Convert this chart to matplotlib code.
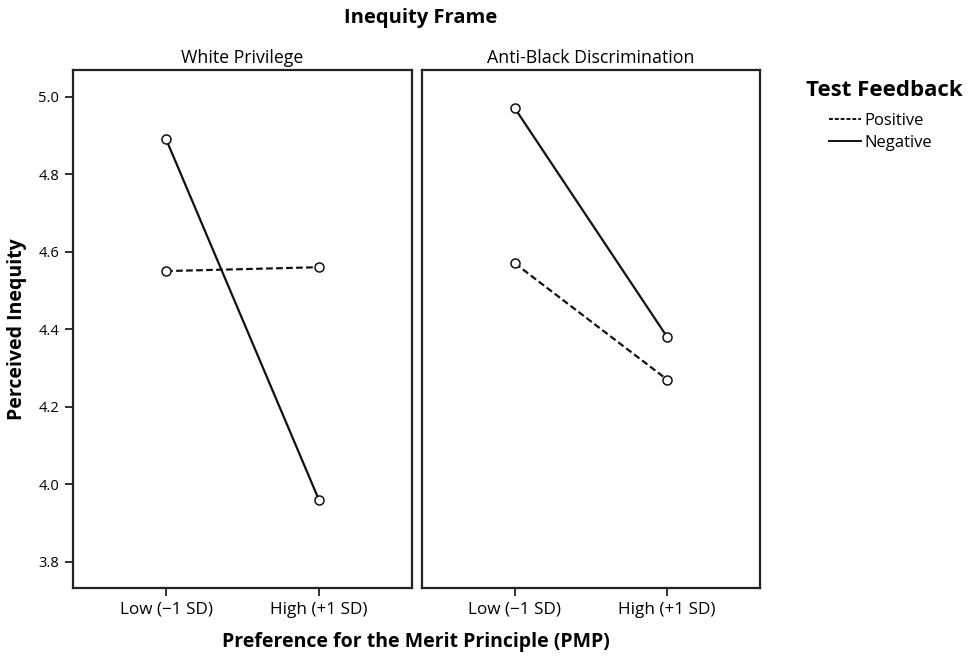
import matplotlib
matplotlib.use("Agg")
import matplotlib.pyplot as plt
from matplotlib.lines import Line2D

plt.rcParams['font.family'] = ['Open Sans', 'DejaVu Sans']

panels = ["White Privilege", "Anti-Black Discrimination"]
x_labels = ["Low (\u22121 SD)", "High (+1 SD)"]
positive = {"White Privilege": [4.55, 4.56], "Anti-Black Discrimination": [4.57, 4.27]}
negative = {"White Privilege": [4.89, 3.96], "Anti-Black Discrimination": [4.97, 4.38]}
y_ticks = [3.8, 4.0, 4.2, 4.4, 4.6, 4.8, 5.0]

fig = plt.figure(figsize=(9.68, 6.59), dpi=100)
W, H = 968, 659
boxes = [(73, 412), (422, 760)]
top, bottom = 70, 588
axes = []
for i, (name, (x0, x1)) in enumerate(zip(panels, boxes)):
    ax = fig.add_axes([x0 / W, 1 - bottom / H, (x1 - x0) / W, (bottom - top) / H])
    xs = list(range(len(x_labels)))
    ax.plot(xs, negative[name], color='#111111', lw=1.6, ls='-', marker='o',
            mfc='white', mec='#111111', ms=6.5, mew=1.1, zorder=3)
    ax.plot(xs, positive[name], color='#111111', lw=1.6, ls=(0, (3, 1.5)), marker='o',
            mfc='white', mec='#111111', ms=6.5, mew=1.1, zorder=3)
    ax.set_xlim(-0.61, 1.61)
    ax.set_ylim(3.732, 5.069)
    ax.set_xticks(xs)
    ax.set_xticklabels(x_labels, fontsize=12.3)
    ax.set_yticks(y_ticks)
    if i == 0:
        ax.set_yticklabels([f"{v:.1f}" for v in y_ticks], fontsize=10.5)
    else:
        ax.tick_params(axis='y', left=False, labelleft=False)
    ax.tick_params(direction='out', length=6, width=1.3, color='#222222', pad=4)
    for s in ax.spines.values():
        s.set_linewidth(1.6)
        s.set_color('#222222')
    ax.set_title(name, fontsize=12.8, pad=5)
    axes.append(ax)

axes[0].set_ylabel("Perceived Inequity", fontsize=14, fontweight='bold', labelpad=8)
fig.text(421 / W, 1 - 18 / H, "Inequity Frame", ha='center', va='center',
         fontsize=14.5, fontweight='bold')
fig.text(416 / W, 1 - 642 / H, "Preference for the Merit Principle (PMP)", ha='center',
         va='center', fontsize=14, fontweight='bold')

fig.text(884 / W, 1 - 90 / H, "Test Feedback", ha='center', va='center',
         fontsize=16, fontweight='bold')
handles = [Line2D([], [], color='#111111', lw=1.4, ls=(0, (2, 1))),
           Line2D([], [], color='#111111', lw=1.4, ls='-')]
leg = fig.legend(handles, ["Positive", "Negative"],
                 loc='upper left', bbox_to_anchor=(829 / W, 1 - 113 / H), frameon=False,
                 fontsize=12, handlelength=1.9, handletextpad=0.25, labelspacing=0.35,
                 borderpad=0, borderaxespad=0)

fig.savefig("out.png", dpi=100)
